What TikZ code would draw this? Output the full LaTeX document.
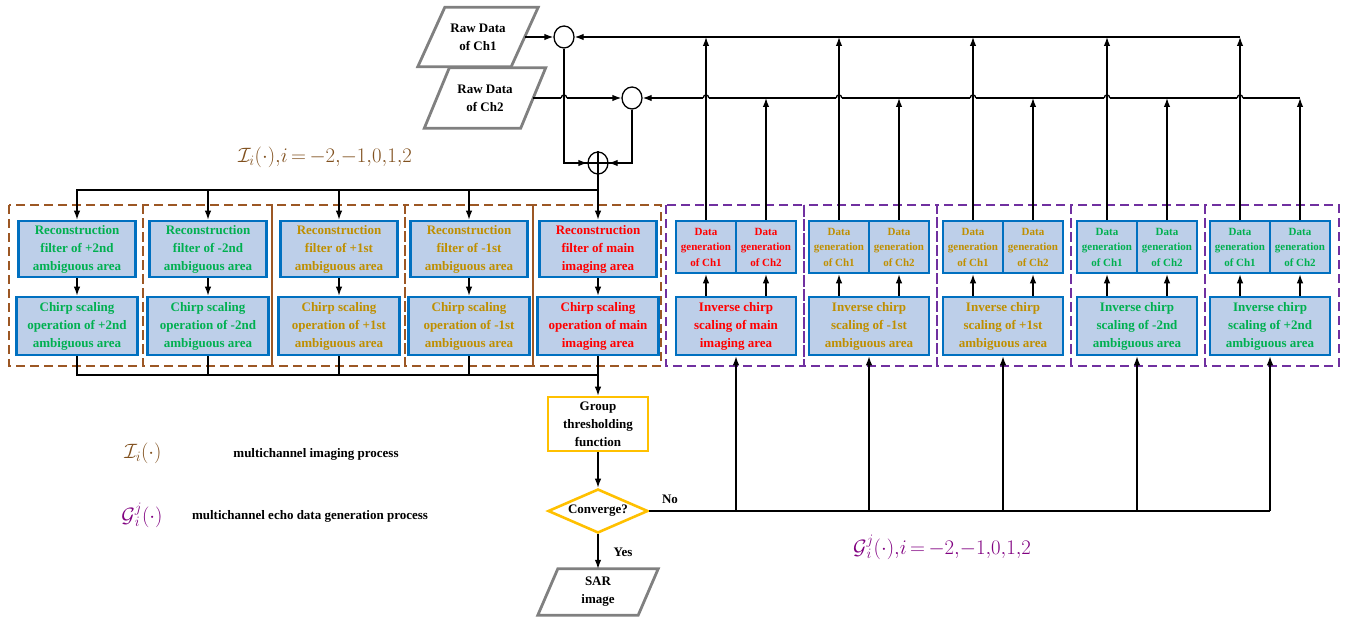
\documentclass[tikz,border=0pt]{standalone}
\usepackage{fontspec}
\setmainfont{Liberation Serif}
\usetikzlibrary{shapes.geometric,arrows.meta,calc}
\definecolor{boxblue}{RGB}{0,112,192}
\definecolor{boxfill}{RGB}{189,207,233}
\definecolor{gr}{RGB}{0,176,80}
\definecolor{gd}{RGB}{191,143,0}
\definecolor{rd}{RGB}{255,0,0}
\definecolor{bdashc}{RGB}{156,87,36}
\definecolor{pdashc}{RGB}{112,48,160}
\definecolor{lbrown}{RGB}{128,80,30}
\definecolor{lpurple}{RGB}{128,0,128}
\definecolor{gold}{RGB}{255,192,0}
\definecolor{pgray}{RGB}{128,128,128}
\begin{document}
\begin{tikzpicture}[x=1pt,y=-1pt,
  conn/.style={line width=1.3pt,draw=black},
  arr/.style={conn,-{Latex[length=9pt,width=6.5pt]}},
  bx/.style={draw=boxblue,line width=2.6pt,fill=boxfill,align=center,inner sep=0pt,
    font=\bfseries\fontsize{13}{18}\selectfont},
  rfbox/.style={bx,minimum width=117pt,minimum height=56pt},
  csbox/.style={bx,minimum width=121pt,minimum height=58pt},
  dgbox/.style={bx,minimum width=60pt,minimum height=52pt,font=\bfseries\fontsize{11}{15.5}\selectfont},
  invbox/.style={bx,minimum width=120pt,minimum height=58pt},
  bdash/.style={draw=bdashc,line width=1.5pt,dash pattern=on 9pt off 5pt},
  pdash/.style={draw=pdashc,line width=1.5pt,dash pattern=on 9pt off 5pt},
  ptext/.style={align=center,inner sep=0pt,font=\bfseries\fontsize{13}{18}\selectfont},
  para/.style={draw=pgray,line width=2.8pt,line join=miter},
  sumc/.style={ellipse,draw=black,line width=1.3pt,minimum width=20pt,minimum height=22pt,inner sep=0pt},
  lbl/.style={inner sep=0pt,font=\bfseries\fontsize{13}{16}\selectfont},
  mlbl/.style={inner sep=0pt,font=\fontsize{21}{24}\selectfont}
]
\useasboundingbox (0,0) rectangle (1353,618);

% ---------- raw data parallelograms ----------
\node[ptext,minimum width=93pt,minimum height=59pt] (raw1) at (478,37) {Raw Data\\of Ch1};
\draw[para] ([xshift=13.5pt]raw1.north west) -- ([xshift=13.5pt]raw1.north east)
  -- ([xshift=-13.5pt]raw1.south east) -- ([xshift=-13.5pt]raw1.south west) -- cycle;
\node[ptext,minimum width=96pt,minimum height=60pt] (raw2) at (485,98) {Raw Data\\of Ch2};
\draw[para] ([xshift=12.5pt]raw2.north west) -- ([xshift=12.5pt]raw2.north east)
  -- ([xshift=-12.5pt]raw2.south east) -- ([xshift=-12.5pt]raw2.south west) -- cycle;

% ---------- combining circles ----------
\node[sumc] (c1) at (564,37) {};
\node[sumc] (c2) at (632,98) {};
\node[sumc] (plus) at (598,163) {};
\draw[conn] (plus.north) -- (plus.south) (plus.west) -- (plus.east);

% ---------- left: imaging process ----------
\node[rfbox,text=gr] (rf1) at (77,249) {Reconstruction\\filter of +2nd\\ambiguous area};
\node[rfbox,text=gr] (rf2) at (208,249) {Reconstruction\\filter of -2nd\\ambiguous area};
\node[rfbox,text=gd] (rf3) at (339,249) {Reconstruction\\filter of +1st\\ambiguous area};
\node[rfbox,text=gd] (rf4) at (469,249) {Reconstruction\\filter of -1st\\ambiguous area};
\node[rfbox,text=rd] (rf5) at (598,249) {Reconstruction\\filter of main\\imaging area};
\node[csbox,text=gr] (cs1) at (77,326) {Chirp scaling\\operation of +2nd\\ambiguous area};
\node[csbox,text=gr] (cs2) at (208,326) {Chirp scaling\\operation of -2nd\\ambiguous area};
\node[csbox,text=gd] (cs3) at (339,326) {Chirp scaling\\operation of +1st\\ambiguous area};
\node[csbox,text=gd] (cs4) at (469,326) {Chirp scaling\\operation of -1st\\ambiguous area};
\node[csbox,text=rd] (cs5) at (598,326) {Chirp scaling\\operation of main\\imaging area};
\draw[bdash] (9,205) rectangle (143,366);
\draw[bdash] (143,205) rectangle (272,366);
\draw[bdash] (272,205) rectangle (405,366);
\draw[bdash] (405,205) rectangle (533,366);
\draw[bdash] (533,205) rectangle (661,366);

% ---------- right: echo data generation ----------
\foreach \k/\x/\c/\ord/\area in {1/676/rd/main/imaging,2/809/gd/-1st/ambiguous,3/943/gd/+1st/ambiguous,4/1077/gr/-2nd/ambiguous,5/1210/gr/+2nd/ambiguous}{
  \node[dgbox,text=\c] (dga\k) at (\x+30,247) {Data\\generation\\of Ch1};
  \node[dgbox,text=\c] (dgb\k) at (\x+90,247) {Data\\generation\\of Ch2};
  \node[invbox,text=\c] (inv\k) at (\x+60,326) {Inverse chirp\\scaling of \ord\\\area\ area};
}
\draw[pdash] (666,205) rectangle (804,366);
\draw[pdash] (804,205) rectangle (937,366);
\draw[pdash] (937,205) rectangle (1071,366);
\draw[pdash] (1071,205) rectangle (1205,366);
\draw[pdash] (1205,205) rectangle (1339,366);

% ---------- threshold, decision, output ----------
\node[ptext,draw=gold,line width=2.6pt,minimum width=100pt,minimum height=54pt] (gt) at (598,424) {Group\\thresholding\\function};
\node[ptext,diamond,aspect=2.27,draw=gold,line width=2.6pt,minimum width=100pt,minimum height=44pt] (dm) at (598,511) {Converge?};
\node[ptext,minimum width=100pt,minimum height=46pt] (sar) at (598,592) {SAR\\image};
\draw[para] ([xshift=10pt]sar.north west) -- ([xshift=10pt]sar.north east)
  -- ([xshift=-10pt]sar.south east) -- ([xshift=-10pt]sar.south west) -- cycle;

% ---------- horizontal feedback lines ----------
\draw[arr] (raw1.east) -- (c1.west);
\draw[arr] (dga5.north |- c1.east) -- (c1.east);
\draw[arr] (raw2.east) -- (c2.west);
\draw[arr] (dgb5.north |- c2.east) -- (c2.east);
% hops on the Ch2 line
\foreach \hx in {564,706,839,973,1107,1240}{
  \fill[white] (\hx-2.8,96.5) rectangle (\hx+2.8,99.5);
  \draw[conn] (\hx-2.8,98) .. controls (\hx-2.8,94) and (\hx+2.8,94) .. (\hx+2.8,98);
}
\draw[conn] (c1.south) |- (plus.west);
\draw[arr] ($(plus.west)+(-12,0)$) -- (plus.west);
\draw[conn] (c2.south) |- (plus.east);
\draw[arr] ($(plus.east)+(12,0)$) -- (plus.east);

% ---------- top bus to reconstruction filters ----------
\coordinate (bus) at (598,190);
\draw[arr] (plus.south) -- (rf5.north);
\foreach \k in {1,2,3,4}{ \draw[arr] (bus) -| (rf\k.north); }
\foreach \k in {1,...,5}{ \draw[arr] (rf\k.south) -- (cs\k.north); }

% ---------- bottom bus to thresholding ----------
\coordinate (bot) at (598,375);
\foreach \k in {1,2,3,4}{ \draw[conn] (cs\k.south) |- (bot); }
\draw[arr] (cs5.south) -- (gt.north);
\draw[arr] (gt.south) -- (dm.north);
\draw[arr] (dm.south) -- (sar.north);

% ---------- right verticals ----------
\foreach \k in {1,...,5}{
  \draw[arr] (dga\k.north) -- (dga\k.north |- c1.east);
  \draw[arr] (dgb\k.north) -- (dgb\k.north |- c2.east);
  \draw[arr] (dga\k.south |- inv\k.north) -- (dga\k.south);
  \draw[arr] (dgb\k.south |- inv\k.north) -- (dgb\k.south);
  \draw[arr] (inv\k.south |- dm.east) -- (inv\k.south);
}
\draw[conn] (dm.east) -- (inv5.south |- dm.east);
\node[lbl] (no) at (670,499) {No};
\node[lbl] (yes) at (623,552) {Yes};

% ---------- labels and legend ----------
\node[mlbl,text=lbrown] (lbI) at (325,157) {$\mathcal{I}_i(\cdot),\! i\mskip3mu{=}\mskip3mu{-2},\!{-1},\!0,\!1,\!2$};
\node[mlbl,text=lpurple] (lbG) at (942,547) {$\mathcal{G}{}_i^j(\cdot),\! i\mskip3mu{=}\mskip3mu{-2},\!{-1},\!0,\!1,\!2$};
\node[mlbl,text=lbrown] (lgI) at (143,453) {$\mathcal{I}_i(\cdot)$};
\node[lbl] (lgIt) at (316,454) {multichannel imaging process};
\node[mlbl,text=lpurple] (lgG) at (142,515) {$\mathcal{G}{}_i^j(\cdot)$};
\node[lbl] (lgGt) at (310,516) {multichannel echo data generation process};
\end{tikzpicture}
\end{document}
